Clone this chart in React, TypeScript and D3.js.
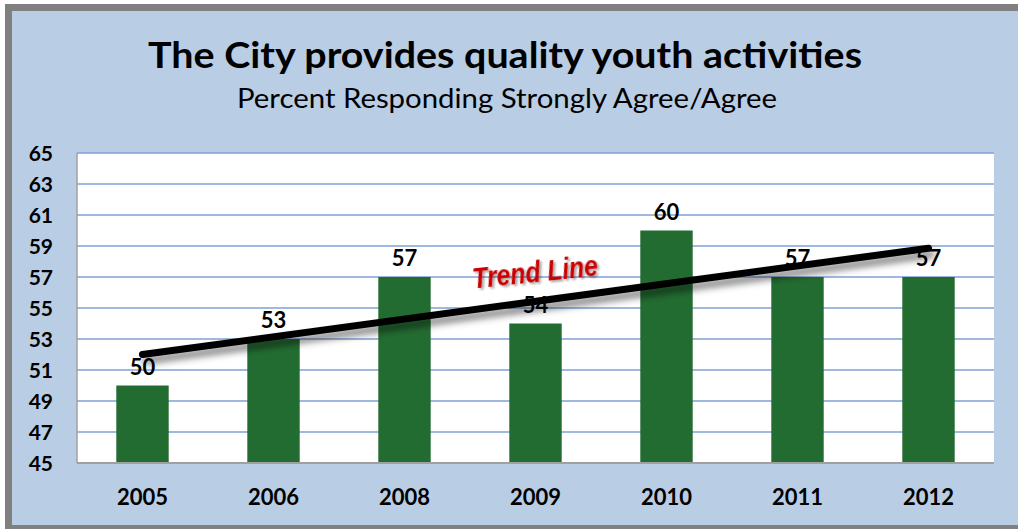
import React from "react";
import * as d3 from "d3";

const years = ["2005", "2006", "2008", "2009", "2010", "2011", "2012"];
const values = [50, 53, 57, 54, 60, 57, 57];
const yTicks = [45, 47, 49, 51, 53, 55, 57, 59, 61, 63, 65];
const title = "The City provides quality youth activities";
const subtitle = "Percent Responding Strongly Agree/Agree";
const trendLabel = "Trend Line";

const W = 1018;
const H = 529;
const plot = { left: 77, right: 994, top: 153, bottom: 463 };

export default function App() {
  const x = d3
    .scaleBand<string>()
    .domain(years)
    .range([plot.left, plot.right])
    .paddingInner(0.6)
    .paddingOuter(0.3);
  const y = d3.scaleLinear().domain([45, 65]).range([plot.bottom, plot.top]);

  // least squares trend over category index
  const n = values.length;
  const mx = d3.mean(values.map((_, i) => i)) as number;
  const my = d3.mean(values) as number;
  let sxy = 0;
  let sxx = 0;
  values.forEach((v, i) => {
    sxy += (i - mx) * (v - my);
    sxx += (i - mx) * (i - mx);
  });
  const slope = sxy / sxx;
  const icpt = my - slope * mx;
  const trendPts: [number, number][] = [0, n - 1].map((i) => [
    (x(years[i]) as number) + x.bandwidth() / 2,
    y(icpt + slope * i),
  ]);
  const line = d3.line();

  const font = "Lato, 'Liberation Sans', sans-serif";

  return (
    <svg
      width={W}
      height={H}
      style={{ position: "absolute", left: 0, top: 0, display: "block" }}
    >
      <defs>
        <filter id="shadow" x="-10%" y="-50%" width="120%" height="300%">
          <feDropShadow dx="3" dy="6" stdDeviation="3.5" floodColor="#000" floodOpacity="0.5" />
        </filter>
        <filter id="tshadow" x="-10%" y="-30%" width="120%" height="160%">
          <feDropShadow dx="2" dy="2" stdDeviation="1" floodColor="#000" floodOpacity="0.35" />
        </filter>
      </defs>
      <rect x={0} y={0} width={W} height={H} fill="#ffffff" />
      <rect x={5} y={4} width={W - 5} height={H - 4} fill="#808080" />
      <rect x={12} y={11} width={W - 12} height={525 - 11} fill="#b9cde5" />

      <text
        x={505}
        y={68}
        textAnchor="middle"
        fontFamily={font}
        fontWeight="bold"
        fontSize={36}
        textLength={714}
        lengthAdjust="spacingAndGlyphs"
        fill="#000"
      >
        {title}
      </text>
      <text
        x={507}
        y={108}
        textAnchor="middle"
        fontFamily={font}
        fontSize={26}
        textLength={540}
        lengthAdjust="spacingAndGlyphs"
        fill="#000"
      >
        {subtitle}
      </text>

      <rect
        x={plot.left}
        y={plot.top}
        width={plot.right - plot.left}
        height={plot.bottom - plot.top}
        fill="#ffffff"
      />
      {yTicks
        .filter((t) => t !== 45)
        .map((t) => (
          <line
            key={t}
            x1={plot.left}
            x2={plot.right}
            y1={y(t)}
            y2={y(t)}
            stroke="#7fa1d4"
            strokeWidth={1.5}
          />
        ))}
      <line
        x1={plot.left}
        x2={plot.left}
        y1={plot.top}
        y2={plot.bottom}
        stroke="#a0a0a0"
        strokeWidth={1.5}
      />

      {values.map((v, i) => (
        <rect
          key={years[i]}
          x={x(years[i])}
          y={y(v)}
          width={x.bandwidth()}
          height={plot.bottom - y(v)}
          fill="#236c31"
        />
      ))}
      <line
        x1={plot.left}
        x2={plot.right}
        y1={plot.bottom}
        y2={plot.bottom}
        stroke="#a0a0a0"
        strokeWidth={2}
      />

      {values.map((v, i) => (
        <text
          key={"l" + years[i]}
          x={(x(years[i]) as number) + x.bandwidth() / 2}
          y={y(v) - 11}
          textAnchor="middle"
          fontFamily={font}
          fontWeight="bold"
          fontSize={22}
          fill="#000"
        >
          {v}
        </text>
      ))}

      <path
        d={line(trendPts) as string}
        stroke="#000"
        strokeWidth={7}
        strokeLinecap="round"
        fill="none"
        filter="url(#shadow)"
      />

      <text
        x={535}
        y={282}
        textAnchor="middle"
        transform="rotate(-6 535 272)"
        fontFamily="'Liberation Sans', Arial, sans-serif"
        fontWeight="bold"
        fontStyle="italic"
        fontSize={29}
        textLength={126}
        lengthAdjust="spacingAndGlyphs"
        fill="#c80000"
        filter="url(#tshadow)"
      >
        {trendLabel}
      </text>

      {yTicks.map((t) => (
        <text
          key={"y" + t}
          x={53}
          y={y(t)}
          dy="0.36em"
          textAnchor="end"
          fontFamily={font}
          fontWeight="bold"
          fontSize={21}
          fill="#000"
        >
          {t}
        </text>
      ))}
      {years.map((yr) => (
        <text
          key={"x" + yr}
          x={(x(yr) as number) + x.bandwidth() / 2}
          y={505}
          textAnchor="middle"
          fontFamily={font}
          fontWeight="bold"
          fontSize={22}
          fill="#000"
        >
          {yr}
        </text>
      ))}
    </svg>
  );
}
